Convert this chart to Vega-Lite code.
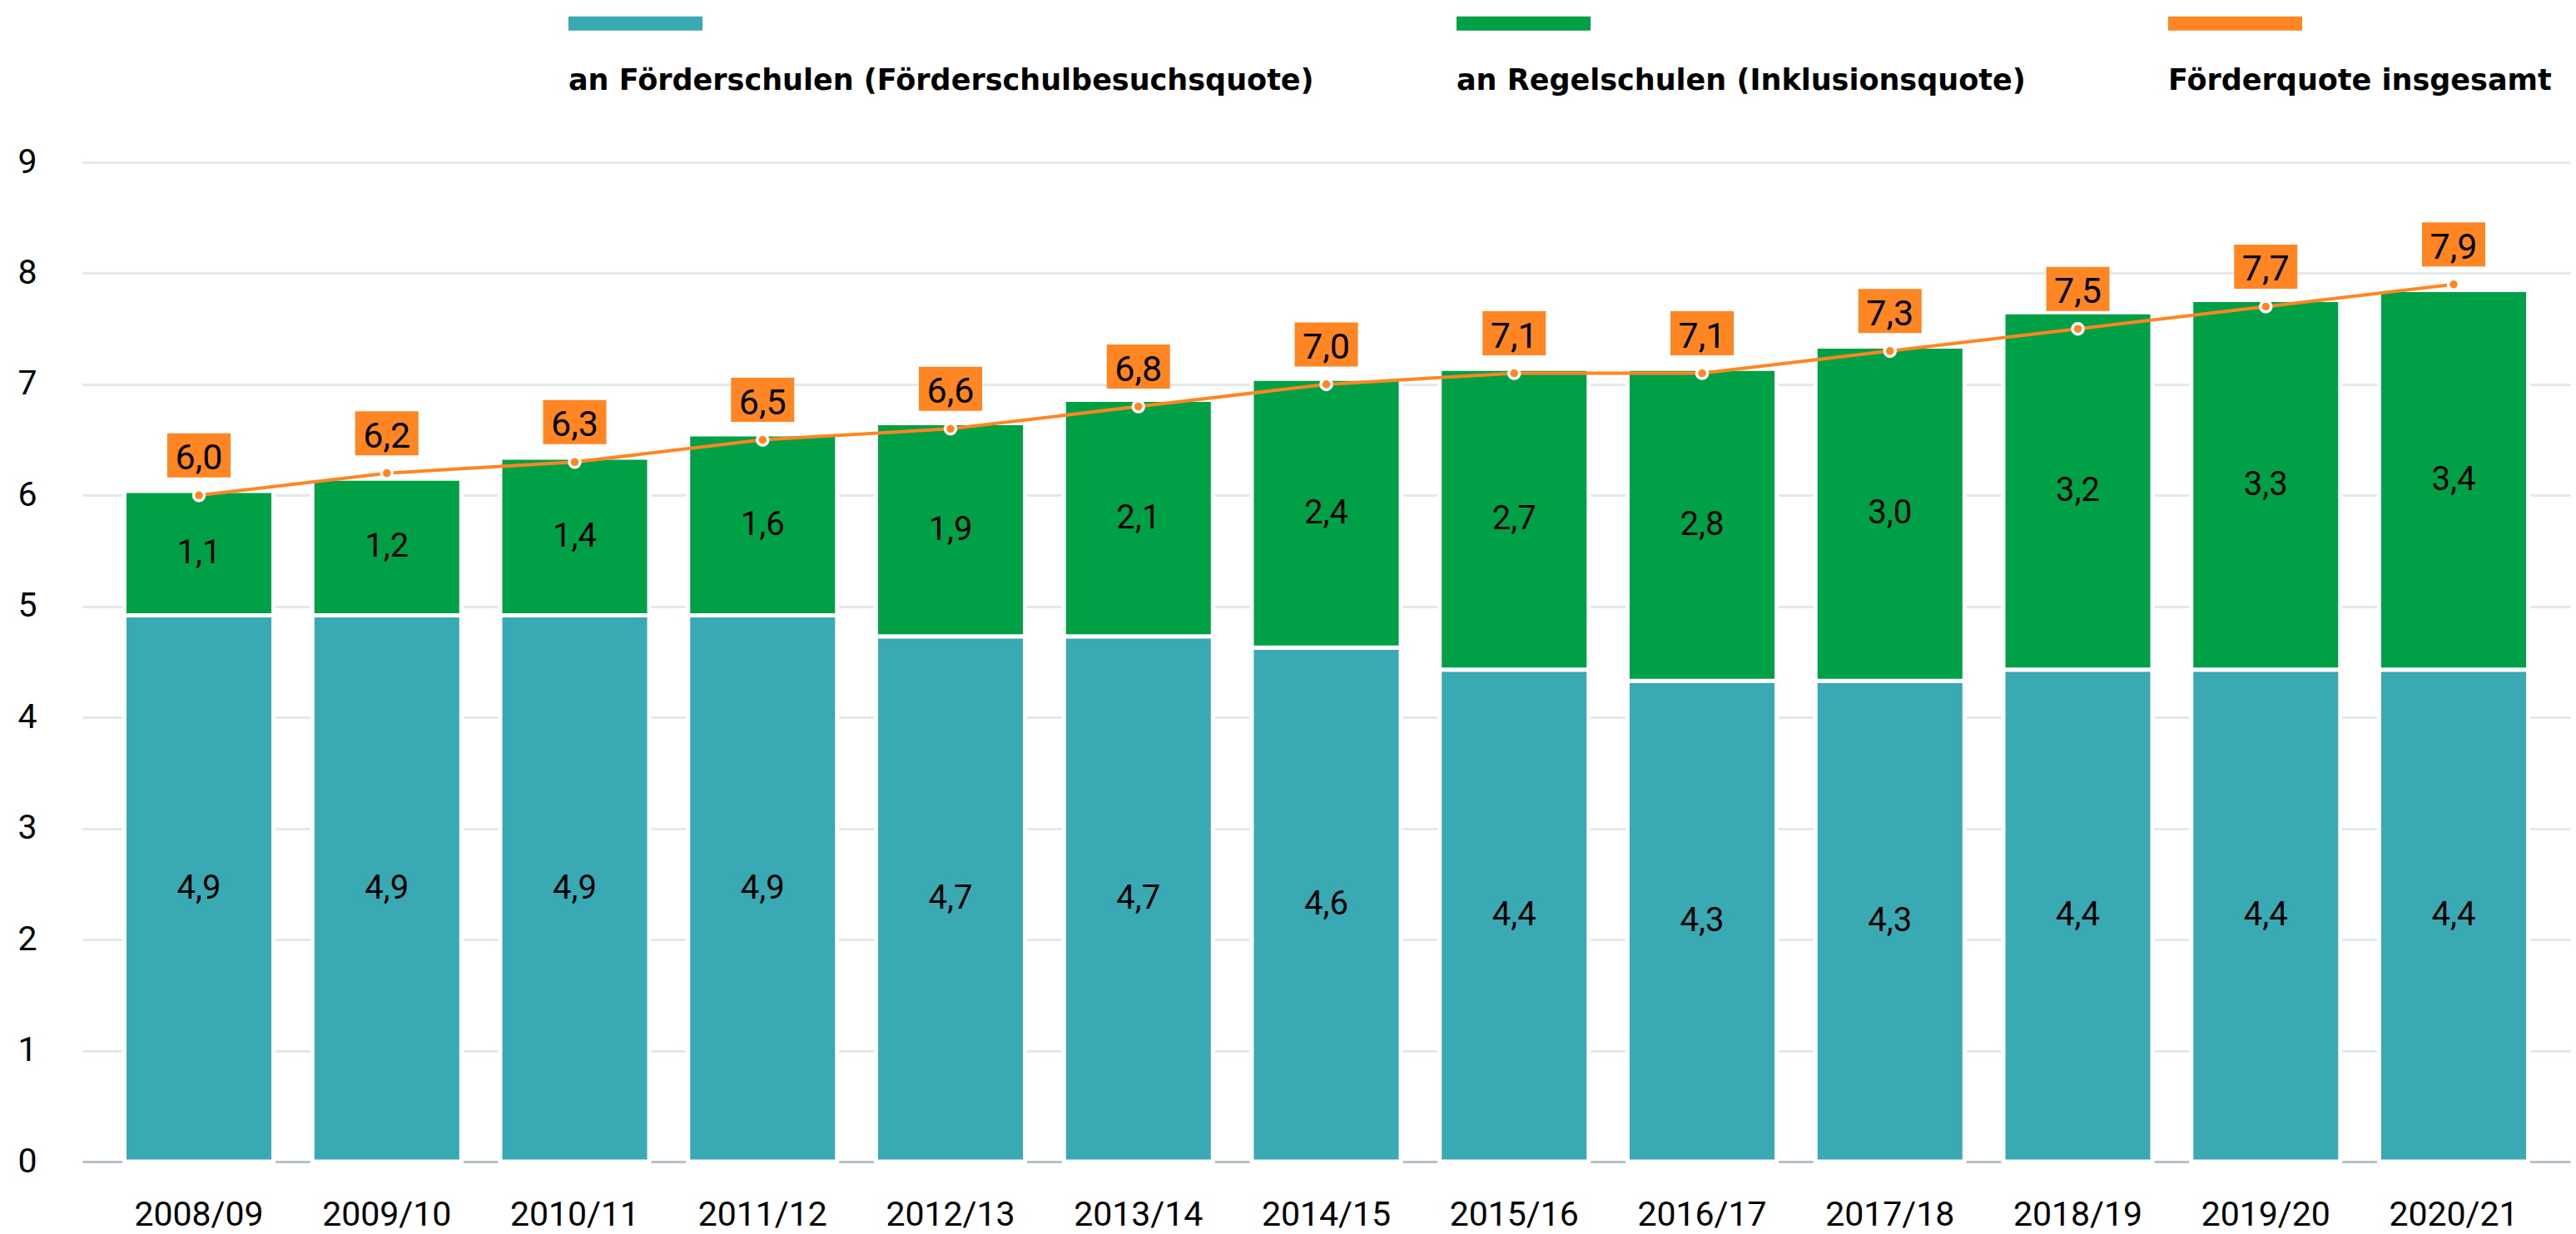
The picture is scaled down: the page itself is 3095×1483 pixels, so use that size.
{
  "$schema": "https://vega.github.io/schema/vega-lite/v6.json",
  "width": 2989,
  "height": 1201,
  "autosize": {"type": "none"},
  "padding": {"left": 99, "top": 195, "right": 7, "bottom": 87},
  "background": "white",
  "config": {
    "view": {"stroke": null},
    "font": "Roboto",
    "axisY": {"labelFont": "Roboto", "labelFontSize": 41, "labelColor": "#000", "labelPadding": 55, "ticks": false, "tickSize": 0, "domain": false, "gridColor": "#E3E8E8", "gridWidth": 3, "title": null, "format": "d"},
    "axisX": {"labelFont": "Roboto", "labelFontSize": 41, "labelColor": "#000", "labelPadding": 44, "ticks": false, "tickSize": 0, "domainColor": "#B5C3C3", "domainWidth": 3, "grid": false, "labelAngle": 0, "title": null}
  },
  "datasets": {
    "bars": [
      {"year": "2008/09", "series": "an Förderschulen (Förderschulbesuchsquote)", "value": 4.92, "label": "4,9"},
      {"year": "2008/09", "series": "an Regelschulen (Inklusionsquote)", "value": 1.12, "label": "1,1"},
      {"year": "2009/10", "series": "an Förderschulen (Förderschulbesuchsquote)", "value": 4.92, "label": "4,9"},
      {"year": "2009/10", "series": "an Regelschulen (Inklusionsquote)", "value": 1.23, "label": "1,2"},
      {"year": "2010/11", "series": "an Förderschulen (Förderschulbesuchsquote)", "value": 4.92, "label": "4,9"},
      {"year": "2010/11", "series": "an Regelschulen (Inklusionsquote)", "value": 1.42, "label": "1,4"},
      {"year": "2011/12", "series": "an Förderschulen (Förderschulbesuchsquote)", "value": 4.92, "label": "4,9"},
      {"year": "2011/12", "series": "an Regelschulen (Inklusionsquote)", "value": 1.63, "label": "1,6"},
      {"year": "2012/13", "series": "an Förderschulen (Förderschulbesuchsquote)", "value": 4.73, "label": "4,7"},
      {"year": "2012/13", "series": "an Regelschulen (Inklusionsquote)", "value": 1.92, "label": "1,9"},
      {"year": "2013/14", "series": "an Förderschulen (Förderschulbesuchsquote)", "value": 4.73, "label": "4,7"},
      {"year": "2013/14", "series": "an Regelschulen (Inklusionsquote)", "value": 2.13, "label": "2,1"},
      {"year": "2014/15", "series": "an Förderschulen (Förderschulbesuchsquote)", "value": 4.63, "label": "4,6"},
      {"year": "2014/15", "series": "an Regelschulen (Inklusionsquote)", "value": 2.42, "label": "2,4"},
      {"year": "2015/16", "series": "an Förderschulen (Förderschulbesuchsquote)", "value": 4.43, "label": "4,4"},
      {"year": "2015/16", "series": "an Regelschulen (Inklusionsquote)", "value": 2.71, "label": "2,7"},
      {"year": "2016/17", "series": "an Förderschulen (Förderschulbesuchsquote)", "value": 4.33, "label": "4,3"},
      {"year": "2016/17", "series": "an Regelschulen (Inklusionsquote)", "value": 2.81, "label": "2,8"},
      {"year": "2017/18", "series": "an Förderschulen (Förderschulbesuchsquote)", "value": 4.33, "label": "4,3"},
      {"year": "2017/18", "series": "an Regelschulen (Inklusionsquote)", "value": 3.01, "label": "3,0"},
      {"year": "2018/19", "series": "an Förderschulen (Förderschulbesuchsquote)", "value": 4.43, "label": "4,4"},
      {"year": "2018/19", "series": "an Regelschulen (Inklusionsquote)", "value": 3.22, "label": "3,2"},
      {"year": "2019/20", "series": "an Förderschulen (Förderschulbesuchsquote)", "value": 4.43, "label": "4,4"},
      {"year": "2019/20", "series": "an Regelschulen (Inklusionsquote)", "value": 3.33, "label": "3,3"},
      {"year": "2020/21", "series": "an Förderschulen (Förderschulbesuchsquote)", "value": 4.43, "label": "4,4"},
      {"year": "2020/21", "series": "an Regelschulen (Inklusionsquote)", "value": 3.42, "label": "3,4"}
    ],
    "total": [
      {"year": "2008/09", "total": 6.0, "label": "6,0"},
      {"year": "2009/10", "total": 6.2, "label": "6,2"},
      {"year": "2010/11", "total": 6.3, "label": "6,3"},
      {"year": "2011/12", "total": 6.5, "label": "6,5"},
      {"year": "2012/13", "total": 6.6, "label": "6,6"},
      {"year": "2013/14", "total": 6.8, "label": "6,8"},
      {"year": "2014/15", "total": 7.0, "label": "7,0"},
      {"year": "2015/16", "total": 7.1, "label": "7,1"},
      {"year": "2016/17", "total": 7.1, "label": "7,1"},
      {"year": "2017/18", "total": 7.3, "label": "7,3"},
      {"year": "2018/19", "total": 7.5, "label": "7,5"},
      {"year": "2019/20", "total": 7.7, "label": "7,7"},
      {"year": "2020/21", "total": 7.9, "label": "7,9"}
    ]
  },
  "encoding": {
    "x": {"field": "year", "type": "nominal", "sort": null, "scale": {"paddingInner": 0.207, "paddingOuter": 0.2237}}
  },
  "layer": [
    {
      "data": {"name": "bars"},
      "mark": {"type": "bar", "stroke": "white", "strokeWidth": 5},
      "encoding": {
        "y": {"field": "value", "type": "quantitative", "stack": "zero", "scale": {"domain": [0, 9], "nice": false}, "axis": {"title": null, "values": [0, 1, 2, 3, 4, 5, 6, 7, 8, 9], "format": "d"}},
        "color": {
          "field": "series", "type": "nominal",
          "scale": {"domain": ["an Förderschulen (Förderschulbesuchsquote)", "an Regelschulen (Inklusionsquote)", "Förderquote insgesamt"], "range": ["#39A9B4", "#00A046", "#FF8623"]},
          "legend": {
            "title": null, "orient": "none", "legendX": 575, "legendY": -105, "direction": "horizontal",
            "symbolType": "M-1,-10.35H17.94V-8.35H-1Z", "symbolSize": 289, "symbolStrokeWidth": 0, "symbolOpacity": 1,
            "labelFont": "DejaVu Sans", "labelFontWeight": "bold", "labelFontSize": 35, "labelColor": "#000",
            "labelLimit": 2000, "labelOffset": -26, "labelBaseline": "alphabetic", "columnPadding": 162, "padding": 0
          }
        },
        "order": {"field": "series", "sort": "ascending"}
      }
    },
    {
      "data": {"name": "bars"},
      "mark": {"type": "text", "fontSize": 40, "font": "Roboto", "color": "#000", "baseline": "middle"},
      "encoding": {
        "y": {"field": "value", "type": "quantitative", "stack": "zero", "bandPosition": 0.5, "axis": {"title": null}},
        "detail": {"field": "series"},
        "order": {"field": "series", "sort": "ascending"},
        "text": {"field": "label"}
      }
    },
    {
      "data": {"name": "total"},
      "mark": {"type": "line", "color": "#FF8623", "strokeWidth": 4},
      "encoding": {"y": {"field": "total", "type": "quantitative", "axis": {"title": null}}}
    },
    {
      "data": {"name": "total"},
      "mark": {"type": "point", "filled": true, "fill": "#FF8623", "stroke": "white", "strokeWidth": 3.5, "strokeOpacity": 1, "size": 170, "opacity": 1},
      "encoding": {"y": {"field": "total", "type": "quantitative", "axis": {"title": null}}}
    },
    {
      "data": {"name": "total"},
      "mark": {"type": "point", "shape": "M-1.434,-1H1.434V1H-1.434Z", "size": 2809, "filled": true, "fill": "#FF8623", "strokeWidth": 0, "opacity": 1, "yOffset": -48},
      "encoding": {"y": {"field": "total", "type": "quantitative", "axis": {"title": null}}}
    },
    {
      "data": {"name": "total"},
      "mark": {"type": "text", "fontSize": 43, "font": "Roboto", "color": "#000", "dy": -44, "baseline": "middle"},
      "encoding": {"y": {"field": "total", "type": "quantitative", "axis": {"title": null}}, "text": {"field": "label"}}
    }
  ]
}
